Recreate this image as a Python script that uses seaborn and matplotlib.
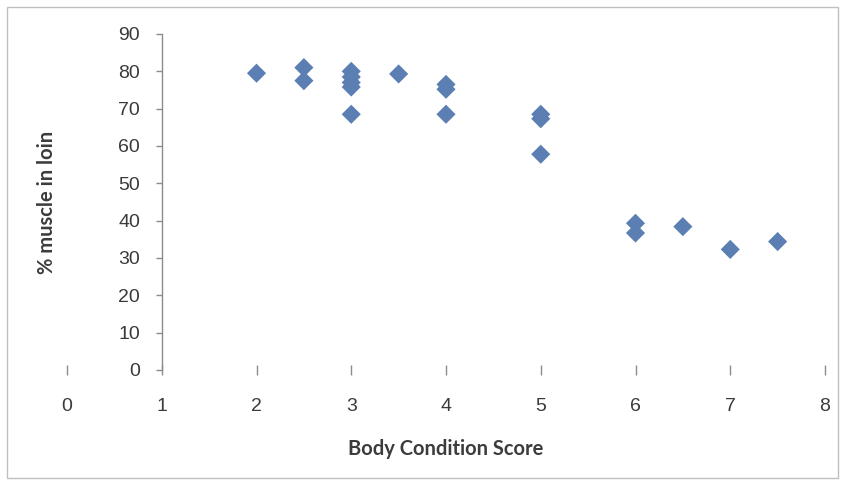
import matplotlib
matplotlib.use("Agg")
import matplotlib.pyplot as plt
from matplotlib.patches import Rectangle
import seaborn as sns
import pandas as pd

# Data
bcs = [2, 2.5, 2.5, 3, 3, 3, 3, 3, 3.5, 4, 4, 4, 5, 5, 5, 6, 6, 6.5, 7, 7.5]
muscle = [79.5, 81, 77.5, 80, 78.5, 77, 75.8, 68.5, 79.3, 76.5, 75.2, 68.5,
          68.5, 67.3, 57.8, 39.3, 36.7, 38.4, 32.3, 34.4]
x_ticks = [0, 1, 2, 3, 4, 5, 6, 7, 8]
y_ticks = [0, 10, 20, 30, 40, 50, 60, 70, 80, 90]
x_label = "Body Condition Score"
y_label = "% muscle in loin"

df = pd.DataFrame({"bcs": bcs, "muscle": muscle})

sns.set_theme(style="white")
plt.rcParams["font.family"] = ["Lato", "DejaVu Sans"]

fig = plt.figure(figsize=(8.5, 4.82), dpi=100)
ax = fig.add_axes([67 / 850, 1 - 370 / 482, (825 - 67) / 850, (370 - 34) / 482])

sns.scatterplot(data=df, x="bcs", y="muscle", ax=ax, marker="D", s=95,
                color="#5B7FB3", edgecolor="none", zorder=3)

ax.set_xlim(0, 8)
ax.set_ylim(0, 90)
ax.set_xticks(x_ticks)
ax.set_yticks(y_ticks)

for s in ["top", "right", "bottom"]:
    ax.spines[s].set_visible(False)
ax.spines["left"].set_position(("data", 1))
ax.spines["left"].set_color("#8c8c8c")
ax.spines["left"].set_linewidth(1.0)

ax.tick_params(axis="y", direction="out", length=4.5, width=1, color="#8c8c8c", pad=11,
               left=True, labelsize=14, labelcolor="#3a3a3a")
ax.tick_params(axis="x", direction="inout", length=7, width=1, color="#8c8c8c", pad=17,
               bottom=True, labelsize=14, labelcolor="#3a3a3a")
ax.set_xticklabels([str(t) for t in x_ticks])
ax.set_yticklabels([str(t) for t in y_ticks])
for lab in ax.get_xticklabels() + ax.get_yticklabels():
    lab.set_fontfamily(["Liberation Sans", "DejaVu Sans"])
    lab.set_fontsize(14)

ax.set_xlabel(x_label, fontsize=14.5, fontweight="bold", color="#3c3c3c", labelpad=17)
ax.set_ylabel(y_label, fontsize=14.5, fontweight="bold", color="#3c3c3c")
ax.yaxis.set_label_coords((57 - 67) / 758, 0.5)

fig.patches.append(Rectangle((7 / 850, 4 / 482), 831 / 850, 471 / 482,
                             transform=fig.transFigure, fill=False,
                             edgecolor="#bfbfbf", linewidth=1))

fig.savefig("out.png", dpi=100)
